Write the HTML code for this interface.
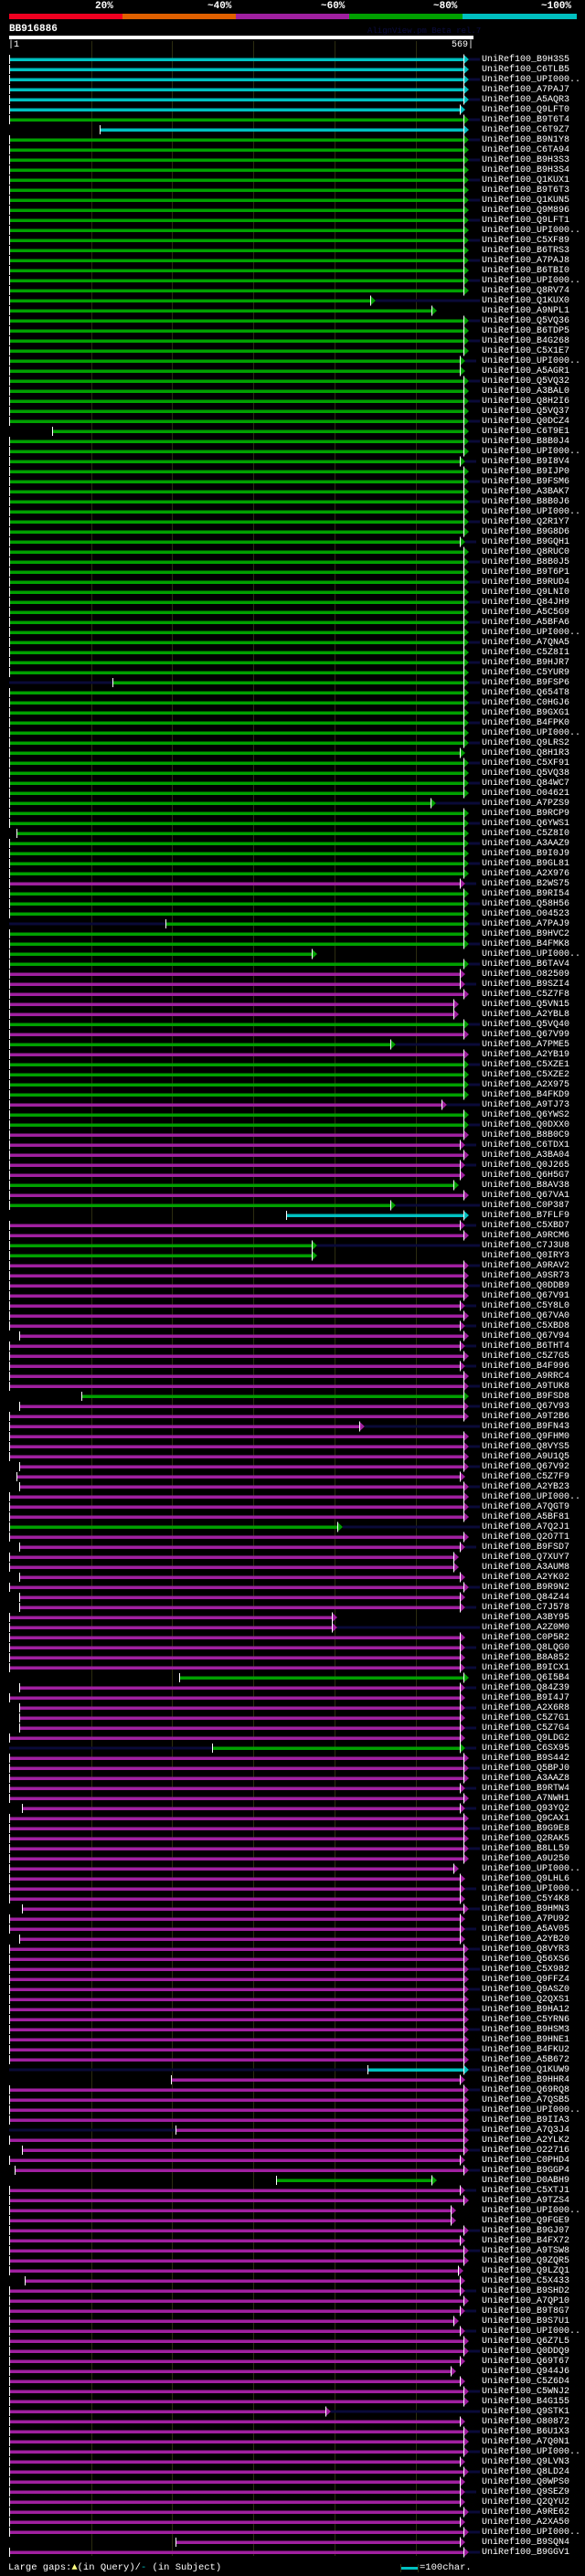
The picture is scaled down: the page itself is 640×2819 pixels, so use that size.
<!DOCTYPE html>
<html><head><meta charset="utf-8"><style>
html,body{margin:0;padding:0;background:#000;}
body{width:640px;height:2819px;position:relative;overflow:hidden;font-family:"Liberation Mono",monospace;color:#fff;}
.t{position:absolute;white-space:pre;}
#names{position:absolute;left:527px;top:59.5px;margin:0;font:10px/11px "Liberation Mono",monospace;color:#fff;}
svg{position:absolute;left:0;top:0;}
</style></head><body>
<svg id="s" width="640" height="2819" xmlns="http://www.w3.org/2000/svg">
<rect x="10" y="15" width="124" height="6" fill="#f00020"/>
<rect x="134" y="15" width="124" height="6" fill="#e06000"/>
<rect x="258" y="15" width="124" height="6" fill="#a020a0"/>
<rect x="382" y="15" width="124" height="6" fill="#00a000"/>
<rect x="506" y="15" width="125" height="6" fill="#00c0c0"/>
<rect x="10" y="39" width="508" height="4" fill="#fff"/>
<g id="g"></g>
<rect x="439" y="2809" width="18" height="3" fill="#00c0c0"/>
<rect x="438" y="2806" width="1" height="9" fill="#303010"/>
<rect x="457" y="2806" width="1" height="9" fill="#303010"/>
</svg>
<div class="t" style="left:104px;top:1px;font:bold 11px 'Liberation Mono',monospace;">20%</div>
<div class="t" style="left:227px;top:1px;font:bold 11px 'Liberation Mono',monospace;">~40%</div>
<div class="t" style="left:351px;top:1px;font:bold 11px 'Liberation Mono',monospace;">~60%</div>
<div class="t" style="left:474px;top:1px;font:bold 11px 'Liberation Mono',monospace;">~80%</div>
<div class="t" style="left:592px;top:1px;font:bold 11px 'Liberation Mono',monospace;">~100%</div>
<div class="t" style="left:10px;top:26px;font:bold 11px 'Liberation Mono',monospace;">BB916886</div>
<div class="t" style="left:402px;top:29px;font:9px 'Liberation Mono',monospace;color:#0c0c40;">AlignView.pm Beta rel.7</div>
<div class="t" style="left:9px;top:44px;font:10px 'Liberation Mono',monospace;">|1</div>
<div class="t" style="left:494px;top:44px;font:10px 'Liberation Mono',monospace;">569|</div>
<pre id="names">UniRef100_B9H3S5
UniRef100_C6TLB5
UniRef100_UPI000..
UniRef100_A7PAJ7
UniRef100_A5AQR3
UniRef100_Q9LFT0
UniRef100_B9T6T4
UniRef100_C6T9Z7
UniRef100_B9N1Y8
UniRef100_C6TA94
UniRef100_B9H3S3
UniRef100_B9H3S4
UniRef100_Q1KUX1
UniRef100_B9T6T3
UniRef100_Q1KUN5
UniRef100_Q9M896
UniRef100_Q9LFT1
UniRef100_UPI000..
UniRef100_C5XF89
UniRef100_B6TRS3
UniRef100_A7PAJ8
UniRef100_B6TBI0
UniRef100_UPI000..
UniRef100_Q8RV74
UniRef100_Q1KUX0
UniRef100_A9NPL1
UniRef100_Q5VQ36
UniRef100_B6TDP5
UniRef100_B4G268
UniRef100_C5X1E7
UniRef100_UPI000..
UniRef100_A5AGR1
UniRef100_Q5VQ32
UniRef100_A3BAL0
UniRef100_Q8H2I6
UniRef100_Q5VQ37
UniRef100_Q0DCZ4
UniRef100_C6T9E1
UniRef100_B8B0J4
UniRef100_UPI000..
UniRef100_B9I8V4
UniRef100_B9IJP0
UniRef100_B9FSM6
UniRef100_A3BAK7
UniRef100_B8B0J6
UniRef100_UPI000..
UniRef100_Q2R1Y7
UniRef100_B9G8D6
UniRef100_B9GQH1
UniRef100_Q8RUC0
UniRef100_B8B0J5
UniRef100_B9T6P1
UniRef100_B9RUD4
UniRef100_Q9LNI0
UniRef100_Q84JH9
UniRef100_A5C5G9
UniRef100_A5BFA6
UniRef100_UPI000..
UniRef100_A7QNA5
UniRef100_C5Z8I1
UniRef100_B9HJR7
UniRef100_C5YUR9
UniRef100_B9FSP6
UniRef100_Q654T8
UniRef100_C0HGJ6
UniRef100_B9GXG1
UniRef100_B4FPK0
UniRef100_UPI000..
UniRef100_Q9LRS2
UniRef100_Q8H1R3
UniRef100_C5XF91
UniRef100_Q5VQ38
UniRef100_Q84WC7
UniRef100_O04621
UniRef100_A7PZS9
UniRef100_B9RCP9
UniRef100_Q6YWS1
UniRef100_C5Z8I0
UniRef100_A3AAZ9
UniRef100_B9I0J9
UniRef100_B9GL81
UniRef100_A2X976
UniRef100_B2WS75
UniRef100_B9RI54
UniRef100_Q58H56
UniRef100_O04523
UniRef100_A7PAJ9
UniRef100_B9HVC2
UniRef100_B4FMK8
UniRef100_UPI000..
UniRef100_B6TAV4
UniRef100_O82509
UniRef100_B9SZI4
UniRef100_C5Z7F8
UniRef100_Q5VN15
UniRef100_A2YBL8
UniRef100_Q5VQ40
UniRef100_Q67V99
UniRef100_A7PME5
UniRef100_A2YB19
UniRef100_C5XZE1
UniRef100_C5XZE2
UniRef100_A2X975
UniRef100_B4FKD9
UniRef100_A9TJ73
UniRef100_Q6YWS2
UniRef100_Q0DXX0
UniRef100_B8B0C9
UniRef100_C6TDX1
UniRef100_A3BA04
UniRef100_Q0J265
UniRef100_Q6H5G7
UniRef100_B8AV38
UniRef100_Q67VA1
UniRef100_C0P387
UniRef100_B7FLF9
UniRef100_C5XBD7
UniRef100_A9RCM6
UniRef100_C7J3U8
UniRef100_Q0IRY3
UniRef100_A9RAV2
UniRef100_A9SR73
UniRef100_Q0DDB9
UniRef100_Q67V91
UniRef100_C5Y8L0
UniRef100_Q67VA0
UniRef100_C5XBD8
UniRef100_Q67V94
UniRef100_B6THT4
UniRef100_C5Z7G5
UniRef100_B4F996
UniRef100_A9RRC4
UniRef100_A9TUK8
UniRef100_B9FSD8
UniRef100_Q67V93
UniRef100_A9T2B6
UniRef100_B9FN43
UniRef100_Q9FHM0
UniRef100_Q8VYS5
UniRef100_A9U1Q5
UniRef100_Q67V92
UniRef100_C5Z7F9
UniRef100_A2YB23
UniRef100_UPI000..
UniRef100_A7QGT9
UniRef100_A5BF81
UniRef100_A7Q2J1
UniRef100_Q2O7T1
UniRef100_B9FSD7
UniRef100_Q7XUY7
UniRef100_A3AUM8
UniRef100_A2YK02
UniRef100_B9R9N2
UniRef100_Q84Z44
UniRef100_C7J578
UniRef100_A3BY95
UniRef100_A2Z0M0
UniRef100_C0P5R2
UniRef100_Q8LQG0
UniRef100_B8A852
UniRef100_B9ICX1
UniRef100_Q6I5B4
UniRef100_Q84Z39
UniRef100_B9I4J7
UniRef100_A2X6R8
UniRef100_C5Z7G1
UniRef100_C5Z7G4
UniRef100_Q9LDG2
UniRef100_C6SX95
UniRef100_B9S442
UniRef100_Q5BPJ0
UniRef100_A3AAZ8
UniRef100_B9RTW4
UniRef100_A7NWH1
UniRef100_Q93YQ2
UniRef100_Q9CAX1
UniRef100_B9G9E8
UniRef100_Q2RAK5
UniRef100_B8LL59
UniRef100_A9U250
UniRef100_UPI000..
UniRef100_Q9LHL6
UniRef100_UPI000..
UniRef100_C5Y4K8
UniRef100_B9HMN3
UniRef100_A7PU92
UniRef100_A5AV05
UniRef100_A2YB20
UniRef100_Q8VYR3
UniRef100_Q56XS6
UniRef100_C5X982
UniRef100_Q9FFZ4
UniRef100_Q9ASZ0
UniRef100_Q2QXS1
UniRef100_B9HA12
UniRef100_C5YRN6
UniRef100_B9HSM3
UniRef100_B9HNE1
UniRef100_B4FKU2
UniRef100_A5B672
UniRef100_Q1KUW9
UniRef100_B9HHR4
UniRef100_Q69RQ8
UniRef100_A7QSB5
UniRef100_UPI000..
UniRef100_B9IIA3
UniRef100_A7Q3J4
UniRef100_A2YLK2
UniRef100_O22716
UniRef100_C0PHD4
UniRef100_B9GGP4
UniRef100_D0ABH9
UniRef100_C5XTJ1
UniRef100_A9TZS4
UniRef100_UPI000..
UniRef100_Q9FGE9
UniRef100_B9GJ07
UniRef100_B4FX72
UniRef100_A9TSW8
UniRef100_Q9ZQR5
UniRef100_Q9LZQ1
UniRef100_C5X433
UniRef100_B9SHD2
UniRef100_A7QP10
UniRef100_B9T8G7
UniRef100_B9S7U1
UniRef100_UPI000..
UniRef100_Q6Z7L5
UniRef100_Q0DDQ9
UniRef100_Q69T67
UniRef100_Q944J6
UniRef100_C5Z6D4
UniRef100_C5WNJ2
UniRef100_B4G155
UniRef100_Q9STK1
UniRef100_O80872
UniRef100_B6U1X3
UniRef100_A7Q0N1
UniRef100_UPI000..
UniRef100_Q9LVN3
UniRef100_Q8LD24
UniRef100_Q0WPS0
UniRef100_Q9SEZ9
UniRef100_Q2QYU2
UniRef100_A9RE62
UniRef100_A2XA50
UniRef100_UPI000..
UniRef100_B9SQN4
UniRef100_B9GGV1</pre>
<div class="t" style="left:9px;top:2804px;font:10.5px 'Liberation Mono',monospace;">Large gaps:<span style="color:#ffff80">&#9650;</span>(in Query)/<span style="color:#00c0c0">-</span> (in Subject)</div>
<div class="t" style="left:459px;top:2804px;font:10.5px 'Liberation Mono',monospace;">=100char.</div>
<script>
var R=["c","c","c","c","c","c,,509","g","c,109"];
function rep(v,n){for(var i=0;i<n;i++)R.push(v);}
rep("g",16);R.push("g,,411,N","g,,478");rep("g",4);R.push("g,,509","g,,509");rep("g",5);
R.push("g,57","g","g","g,,509","g");rep("g",6);R.push("g,,509");rep("g",13);R.push("g,123,,P");
rep("g",6);R.push("g,,509");rep("g",4);R.push("g,,477,N","g","g","g,18");rep("g",4);
R.push("m,,509","g","g","g","g,181,,P","g","g","g,,347","g","m,,509","m,,509","m","m,,502","m,,502","g","m","g,,433,N","m");
rep("g",4);R.push("m,,489,N","g","g","m","m,,509","m","m,,509","m,,509","g,,502","m","g,,433,N","c,313","m,,509","m","g,,347,N","g,,347");
R.push("m","m","m","m","m,,509","m");
R.push("m,,509","m,21","m,,509","m","m,,509","m","m","g,89","m,21","m","m,,399,N","m","m","m","m,21","m,18,509","m,21","m","m","m","g,,375,N","m","m,21,509","m,,502","m,,502","m,21,509","m","m,21,509","m,21,509","m,,369","m,,369,N","m,,509","m,,509","m,,509","m,,509","g,196","m,21,509","m,,509","m,21,509","m,21,509","m,21,509","m,,509");
R.push("g,232,509,P","m","m","m","m,,509","m","m,24,509","m","m","m","m","m","m,,502","m,,509","m,,509","m,,509","m,24","m,,509","m,,509","m,21,509");
rep("m",12);R.push("c,402,,P","m,187,509","m","m","m","m","m,192,,P","m","m,24","m,,509");
R.push("m,16","g,302,478","m,,509","m","m,,499","m,,499","m","m,,509","m","m","m,,507","m,27,509","m,,509","m","m,,509","m,,502","m,,509","m","m","m,,509","m,,499","m,,509","m","m","m,,362,N","m,,509","m","m","m","m,,509","m","m,,509","m,,509","m,,509","m","m,,509","m","m,192,509","m");
var col={c:"#00c0c0",g:"#00a000",m:"#a020a0"};
var NS="http://www.w3.org/2000/svg",G=document.getElementById("g");
function el(t,a){var e=document.createElementNS(NS,t);for(var k in a)e.setAttribute(k,a[k]);G.appendChild(e);return e;}
[100,188,277,366,455].forEach(function(x){el("rect",{x:x,y:45,width:1,height:2752,fill:"#2c2c10"});});
for(var i=0;i<R.length;i++){
 var p=R[i].split(","),c=col[p[0]],s=p[1]?+p[1]:10,e=p[2]?+p[2]:513,f=p[3]||"",y=65+11*i;
 if(f=="P")el("rect",{x:10,y:y-1.5,width:s-10,height:3,fill:"#0a0a38"});
 if(f=="N")el("rect",{x:e,y:y-1.5,width:525-e,height:3,fill:"#0a0a38"});
 else if(e>=509&&i%2==0)el("rect",{x:e,y:y-1.5,width:12,height:3,fill:"#0a0a38"});
 el("rect",{x:s,y:y-1.5,width:e-6-s,height:3.5,fill:c});
 el("rect",{x:s,y:y-5,width:1,height:10,fill:"#fff"});
 el("polygon",{points:(e-6)+","+(y-5.5)+" "+e+","+y+" "+(e-6)+","+(y+5.5),fill:c});
 el("rect",{x:e-6,y:y-5.5,width:1,height:11,fill:"#fff"});
}
</script>
</body></html>
